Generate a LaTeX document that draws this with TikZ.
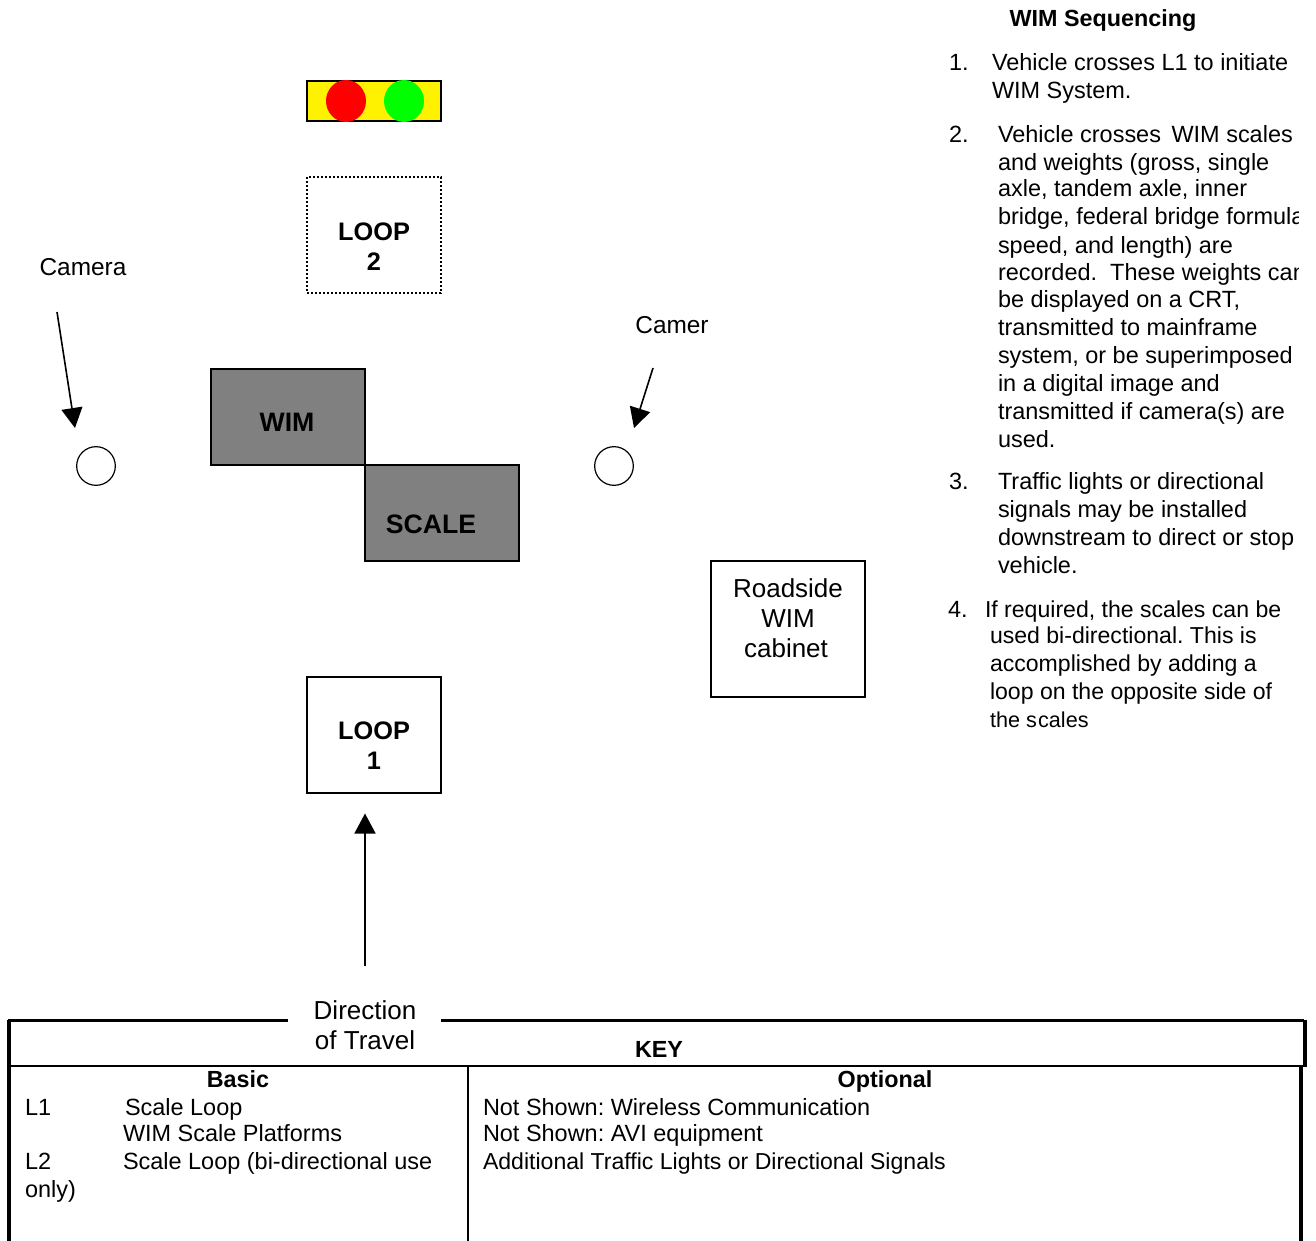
\documentclass[tikz,border=0pt]{standalone}
\usepackage{fontspec}
\setmainfont{Liberation Sans}
\usetikzlibrary{arrows.meta,shapes.geometric}
\definecolor{wimgray}{RGB}{128,128,128}
\newcommand{\fsz}[1]{\fontsize{#1}{#1}\selectfont\frenchspacing}
\tikzset{
  x=0.75pt,y=-0.75pt,
  txt/.style={inner sep=0pt,outer sep=0pt,anchor=base west,font=\fsz{17.6}},
  keytxt/.style={inner sep=0pt,outer sep=0pt,anchor=base west,font=\fsz{17.6}},
  ctr/.style={inner sep=0pt,outer sep=0pt,anchor=base,font=\fsz{19.5}},
  camlabel/.style={inner sep=0pt,outer sep=0pt,anchor=base,font=\fsz{18.3}},
  bld/.style={inner sep=0pt,outer sep=0pt,anchor=base,font=\fsz{19}\bfseries},
  padlabel/.style={inner sep=0pt,outer sep=0pt,anchor=base,font=\fsz{20}\bfseries},
  hd/.style={inner sep=0pt,outer sep=0pt,anchor=base,font=\fsz{17.5}\bfseries},
  arr/.style={line width=1.2pt,-{Triangle[length=15pt,width=15.75pt]}},
  thick box/.style={line width=2pt},
  pad/.style={draw,line width=1pt,fill=wimgray},
  lamp/.style={ellipse,minimum width=30pt,minimum height=31.5pt,inner sep=0pt},
  cam/.style={circle,draw,line width=0.9pt,minimum size=29pt,inner sep=0pt,fill=white},
}
\begin{document}
\begin{tikzpicture}
\useasboundingbox (0,0) rectangle (1316,1241);
% signal
\draw[line width=1.1pt,fill=yellow] (307,81) rectangle (441,121);
\node[lamp,fill=red] (redl) at (346,101) {};
\node[lamp,fill=green] (greenl) at (404,101) {};
% loop 2
\draw[line width=1.1pt,dash pattern=on 1.5pt off 1.5pt] (307,177) rectangle (441,293);
\node[bld] (lp2a) at (374,241) {LOOP};
\node[bld] (lp2b) at (374,271) {2};
% pads
\draw[pad] (211,369) rectangle (365,465);
\draw[pad] (365,465) rectangle (519,561);
\node[padlabel] (wim) at (287,431) {WIM};
\node[padlabel] (scale) at (431,533) {SCALE};
% cameras
\node[camlabel] (cam1) at (83,275) {Camera};
\coordinate (c1s) at (57,312);
\coordinate (c1e) at (75,428);
\draw[arr] (c1s) -- (c1e);
\node[cam] (c1) at (96,466) {};
\node[camlabel] (cam2) at (672,333) {Camer};
\coordinate (c2s) at (653,368);
\coordinate (c2e) at (634,428);
\draw[arr] (c2s) -- (c2e);
\node[cam] (c2) at (614,466) {};
% cabinet
\draw[line width=1pt] (711,561) rectangle (865,697);
\node[ctr] (rs1) at (788,597) {Roadside};
\node[ctr] (rs2) at (788,627) {WIM};
\node[ctr] (rs3) at (786,657) {cabinet};
% loop 1
\draw[line width=1pt] (307,677) rectangle (441,793);
\node[bld] (lp1a) at (374,739) {LOOP};
\node[bld] (lp1b) at (374,769) {1};
\coordinate (as) at (365,966);
\coordinate (ae) at (365,813.5);
\draw[arr] (as) -- (ae);
% key table
\draw[line width=2.6pt] (9,1242) -- (9,1019.5);
\draw[thick box] (8,1020.7) -- (288,1020.7);
\draw[thick box] (441,1020.7) -- (1304,1020.7);
\draw[thick box] (9,1066) -- (1305,1066);
\draw[line width=3pt] (1305,1019.5) -- (1305,1067);
\draw[line width=3pt] (1300.5,1066) -- (1300.5,1242);
\draw[line width=1.2pt] (468,1066) -- (468,1242);
\node[ctr] (dir1) at (365,1019) {Direction};
\node[ctr] (dir2) at (365,1049) {of Travel};
\node[hd] (key) at (659,1057) {KEY};
\node[hd] (basic) at (238,1087) {Basic};
\node[hd] (opt) at (885,1087) {Optional};
\node[keytxt] (l1) at (25,1115) {L1};
\node[keytxt] (l1t) at (125,1115) {Scale Loop};
\node[keytxt] (wp) at (123,1141) {WIM Scale Platforms};
\node[keytxt] (l2) at (25,1169) {L2};
\node[keytxt] (l2t) at (123,1169) {Scale Loop (bi-directional use};
\node[keytxt] (only) at (25,1197) {only)};
\node[keytxt] (o1) at (483,1115) {Not Shown: Wireless Communication};
\node[keytxt] (o2) at (483,1141) {Not Shown: AVI equipment};
\node[keytxt,font=\fsz{17.3}] (o3) at (483,1169) {Additional Traffic Lights or Directional Signals};
% sequencing
\node[hd] (seq) at (1103,27) {WIM Sequencing};
\begin{scope}
\clip (930,40) rectangle (1298.5,760);
\node[txt] (n1) at (949,71) {1.};
\node[txt] (s1a) at (992,71) {Vehicle crosses L1 to initiate};
\node[txt] (s1b) at (992,99) {WIM System.};
\node[txt] (n2) at (949,143) {2.};
\node[txt] (s2a) at (998,143) {Vehicle crosses\hspace{3pt} WIM scales};
\node[txt] (s2b) at (998,171) {and weights (gross, single};
\node[txt] (s2c) at (998,197) {axle, tandem axle, inner};
\node[txt] (s2d) at (998,225) {bridge, federal bridge formula,};
\node[txt] (s2e) at (998,253) {speed, and length) are};
\node[txt] (s2f) at (998,281) {recorded.\ \ These weights can};
\node[txt] (s2g) at (998,307) {be displayed on a CRT,};
\node[txt] (s2h) at (998,335) {transmitted to mainframe};
\node[txt] (s2i) at (998,363) {system, or be superimposed};
\node[txt] (s2j) at (998,391) {in a digital image and};
\node[txt] (s2k) at (998,419) {transmitted if camera(s) are};
\node[txt] (s2l) at (998,447) {used.};
\node[txt] (n3) at (949,489) {3.};
\node[txt] (s3a) at (998,489) {Traffic lights or directional};
\node[txt] (s3b) at (998,517) {signals may be installed};
\node[txt] (s3c) at (998,545) {downstream to direct or stop};
\node[txt] (s3d) at (998,573) {vehicle.};
\node[txt] (n4) at (948,617) {4.};
\node[txt,font=\fsz{17.3}] (s4a) at (985,617) {If required, the scales can be};
\node[txt,font=\fsz{17.3}] (s4b) at (990,643) {used bi-directional. This is};
\node[txt,font=\fsz{17.3}] (s4c) at (990,671) {accomplished by adding a};
\node[txt,font=\fsz{17.3}] (s4d) at (990,699) {loop on the opposite side of};
\node[txt,font=\fsz{16.2}] (s4e) at (990,727) {the s\hspace{1pt}cales};
\end{scope}
\end{tikzpicture}
\end{document}
